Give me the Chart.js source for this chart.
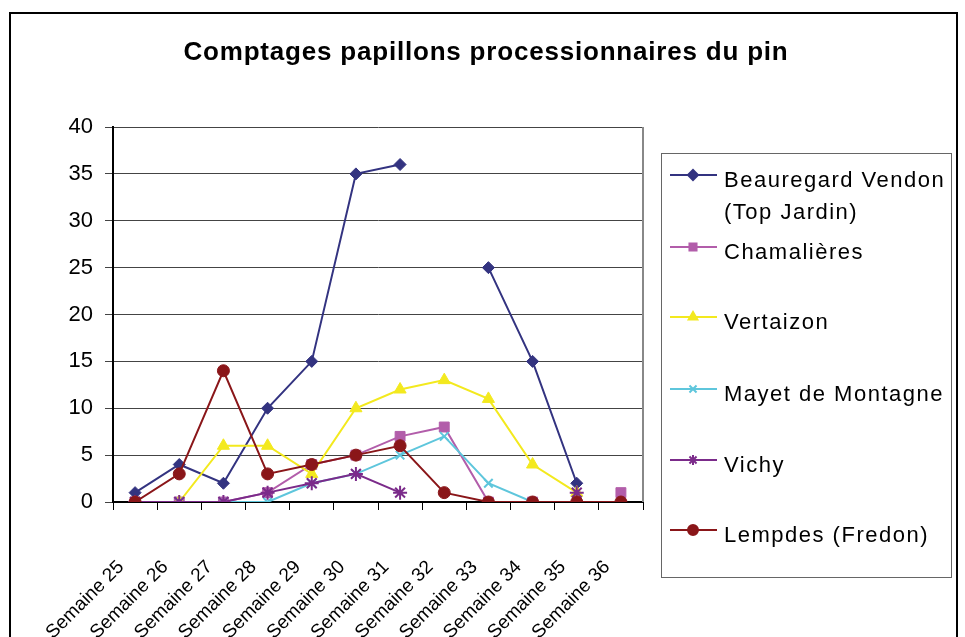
<!DOCTYPE html>
<html lang="fr">
<head>
    <meta charset="UTF-8">
    <title>Comptages papillons processionnaires du pin</title>
    <script src="https://cdn.jsdelivr.net/npm/chart.js"></script>
    <style>
        html, body { margin: 0; padding: 0; background: #fff; }
        #wrap { width: 965px; height: 637px; }
    </style>
</head>
<body>
<div id="wrap"><canvas id="chart" width="965" height="637"></canvas></div>
<script>
    const weeks = ['Semaine 25', 'Semaine 26', 'Semaine 27', 'Semaine 28', 'Semaine 29', 'Semaine 30',
                   'Semaine 31', 'Semaine 32', 'Semaine 33', 'Semaine 34', 'Semaine 35', 'Semaine 36'];
    const beauregard  = [1, 4, 2, 10, 15, 35, 36, null, 25, 15, 2, null];
    const chamalieres = [0, 0, 0, 1, 4, 5, 7, 8, 0, 0, null, 1];
    const vertaizon   = [0, 0, 6, 6, 3, 10, 12, 13, 11, 4, 1, null];
    const mayet       = [0, 0, 0, 0, 2, 3, 5, 7, 2, 0, 0, null];
    const vichy       = [0, 0, 0, 1, 2, 3, 1, null, null, null, 1, null];
    const lempdes     = [0, 3, 14, 3, 4, 5, 6, 1, 0, 0, 0, 0];
    const yTicks = [0, 5, 10, 15, 20, 25, 30, 35, 40];

    const title = 'Comptages papillons processionnaires du pin';

    function serie(label, data, color, style, radius, i) {
        return {
            label: label,
            data: data,
            borderColor: color,
            backgroundColor: color,
            borderWidth: 2,
            pointStyle: style,
            pointRadius: radius,
            pointBackgroundColor: color,
            pointBorderColor: color,
            pointBorderWidth: (style === 'crossRot' || style === 'star') ? 2 : 1,
            tension: 0,
            order: 5 - i
        };
    }

    const datasets = [
        serie('Beauregard Vendon|(Top Jardin)', beauregard, '#333380', 'rectRot', 6, 0),
        serie('Chamalières', chamalieres, '#B25DAA', 'rect', 7, 1),
        serie('Vertaizon', vertaizon, '#F3E91E', 'triangle', 7, 2),
        serie('Mayet de Montagne', mayet, '#5EC6DC', 'crossRot', 6, 3),
        serie('Vichy', vichy, '#7B2B8A', 'star', 7, 4),
        serie('Lempdes (Fredon)', lempdes, '#8A1619', 'circle', 6, 5)
    ];

    // frame, title, plot border and boxed legend
    const decor = {
        id: 'decor',
        afterDraw(chart) {
            const ctx = chart.ctx;
            const area = chart.chartArea;
            ctx.save();
            ctx.strokeStyle = '#000';
            ctx.lineWidth = 2;
            ctx.beginPath();
            ctx.moveTo(10, 640);
            ctx.lineTo(10, 13);
            ctx.lineTo(957, 13);
            ctx.lineTo(957, 640);
            ctx.stroke();

            ctx.strokeStyle = '#888';
            ctx.lineWidth = 2;
            ctx.beginPath();
            ctx.moveTo(area.right, area.top);
            ctx.lineTo(area.right, area.bottom);
            ctx.stroke();

            ctx.fillStyle = '#000';
            ctx.font = 'bold 26px "Liberation Sans", Arial, sans-serif';
            ctx.letterSpacing = '0.8px';
            ctx.textAlign = 'center';
            ctx.textBaseline = 'middle';
            ctx.fillText(title, 486, 53);

            // legend
            ctx.strokeStyle = '#666';
            ctx.lineWidth = 1;
            ctx.strokeRect(661.5, 153.5, 290, 424);
            const markY = [175, 247, 317, 389, 460, 530];
            ctx.font = '22px "Liberation Sans", Arial, sans-serif';
            ctx.textAlign = 'left';
            ctx.letterSpacing = '1.5px';
            chart.data.datasets.forEach((ds, i) => {
                const y = markY[i];
                ctx.strokeStyle = ds.borderColor;
                ctx.lineWidth = 2;
                ctx.beginPath();
                ctx.moveTo(670, y);
                ctx.lineTo(717, y);
                ctx.stroke();
                ctx.fillStyle = ds.borderColor;
                Chart.helpers.drawPoint(ctx, {
                    pointStyle: ds.pointStyle,
                    radius: 5,
                    borderWidth: ds.pointBorderWidth,
                    rotation: 0
                }, 693, y);
                ctx.fillStyle = '#000';
                ds.label.split('|').forEach((line, k) => {
                    ctx.fillText(line, 724, y + 6 + k * 32);
                });
            });
            ctx.restore();
        }
    };

    Chart.defaults.font.family = '"Liberation Sans", Arial, sans-serif';
    Chart.defaults.color = '#000';

    new Chart(document.getElementById('chart'), {
        type: 'line',
        data: { labels: weeks, datasets: datasets },
        options: {
            responsive: false,
            animation: false,
            layout: { padding: { left: 0, right: 322, top: 127, bottom: 0 } },
            plugins: {
                legend: { display: false },
                tooltip: { enabled: false },
                title: { display: false }
            },
            scales: {
                x: {
                    offset: true,
                    grid: { offset: true, drawOnChartArea: false, drawTicks: true, tickLength: 8, color: '#000' },
                    border: { color: '#000', width: 2 },
                    ticks: { minRotation: 45, maxRotation: 45, autoSkip: false, padding: 46, labelOffset: -14,
                             font: { size: 19 }, color: '#000' },
                    afterFit(scale) { scale.height = 135; }
                },
                y: {
                    min: 0,
                    max: 40,
                    afterBuildTicks(scale) { scale.ticks = yTicks.map(v => ({ value: v })); },
                    grid: { color: '#444', lineWidth: 1, tickLength: 8 },
                    border: { color: '#000', width: 2 },
                    ticks: { padding: 12, font: { size: 22 }, color: '#000' },
                    afterFit(scale) { scale.width = 113; }
                }
            }
        },
        plugins: [decor]
    });
</script>
</body>
</html>
